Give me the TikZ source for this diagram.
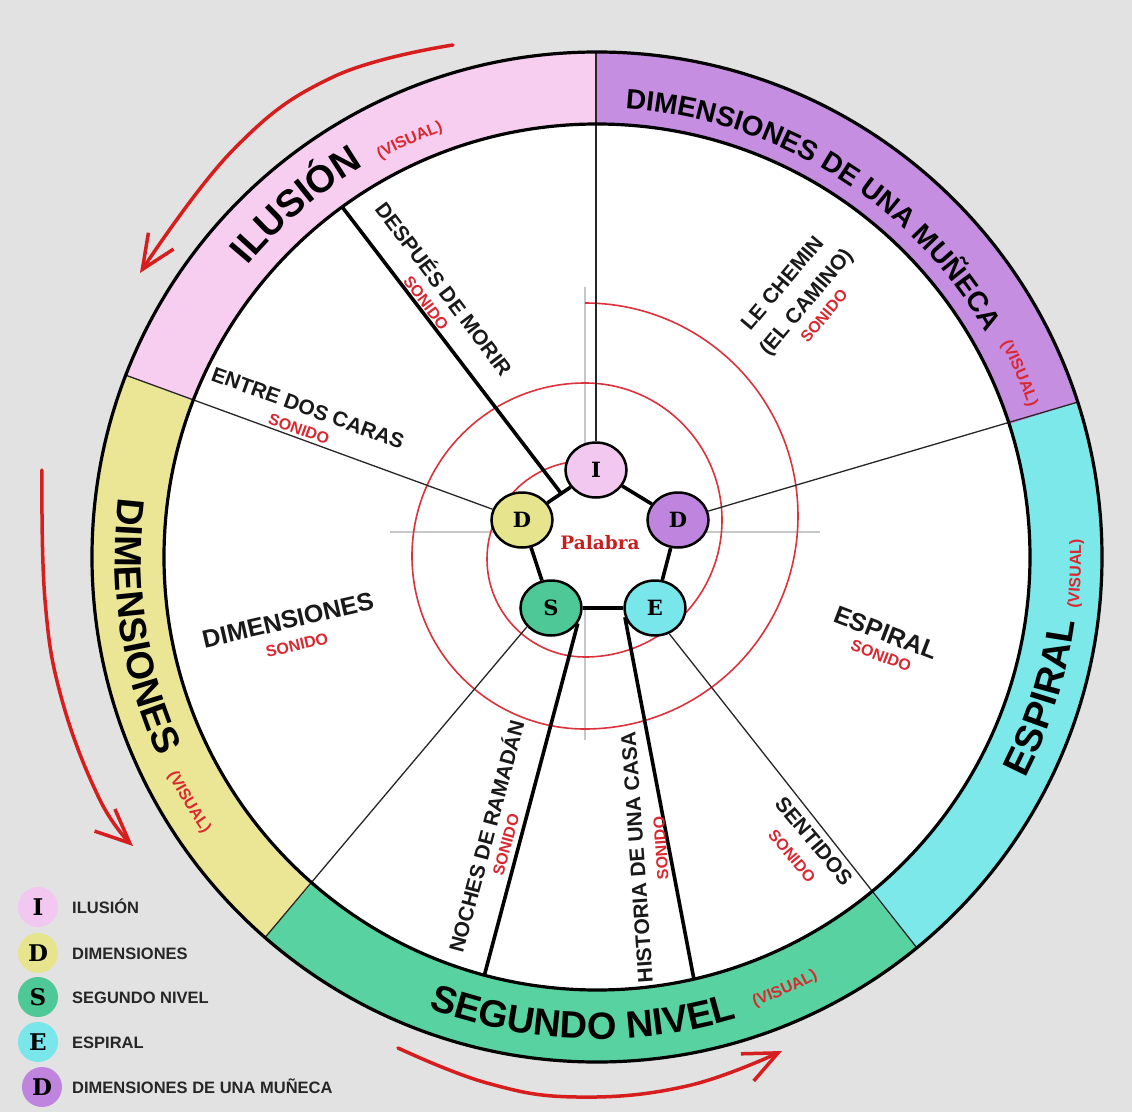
\documentclass[tikz,border=0pt]{standalone}
\usepackage{fontspec}
\setmainfont{Liberation Sans}
\newfontfamily\serifb{DejaVu Serif}
\usetikzlibrary{decorations.text,arrows.meta,shapes.geometric,calc}
\definecolor{bgc}{RGB}{226,226,226}
\definecolor{rpink}{RGB}{247,205,240}
\definecolor{rpurple}{RGB}{197,142,224}
\definecolor{rcyan}{RGB}{125,232,234}
\definecolor{rgreen}{RGB}{88,210,160}
\definecolor{ryellow}{RGB}{235,230,150}
\definecolor{npink}{RGB}{242,200,240}
\definecolor{nyellow}{RGB}{230,228,140}
\definecolor{npurple}{RGB}{190,132,222}
\definecolor{ngreen}{RGB}{78,200,150}
\definecolor{ncyan}{RGB}{120,230,235}
\definecolor{sonred}{RGB}{218,40,48}
\definecolor{arrowred}{RGB}{214,30,30}
\definecolor{spiralred}{RGB}{220,50,60}
\definecolor{palred}{RGB}{200,30,30}
\newcommand\ringsector[3]{\fill[#1] (#2:505) arc[start angle=#2, end angle=#3, radius=505] -- (#3:433) arc[start angle=#3, end angle=#2, radius=433] -- cycle;}
\newcommand\arctext[6]{\path[decorate, decoration={text along path, text align=center, text color=#5, text={|\bfseries\fontsize{#4}{#4}\selectfont|#6}}] (#1:#3) arc[start angle=#1, end angle=#2, radius=#3];}
\begin{document}
\begin{tikzpicture}[x=1pt,y=1pt,
  pnode/.style={ellipse, draw=black, line width=2.5, minimum width=61, minimum height=55, inner sep=0, font=\serifb\bfseries\fontsize{21}{21}\selectfont},
  thinspoke/.style={draw=black!85, line width=1.3},
  thickspoke/.style={draw=black, line width=3.6},
  sect/.style={font=\bfseries\fontsize{21}{23}\selectfont, inner sep=0, text=black!90},
  sectbig/.style={font=\bfseries\fontsize{25}{27}\selectfont, inner sep=0, text=black!90},
  son/.style={text=sonred, font=\bfseries\fontsize{16}{16}\selectfont, inner sep=0},
  redarrow/.style={draw=arrowred, line width=3.5, line cap=round, -{Straight Barb[length=34, width=30]}},
  legc/.style={circle, minimum size=40, inner sep=0, font=\serifb\bfseries\fontsize{23}{23}\selectfont},
  legt/.style={anchor=base west, inner sep=0, text=black!85, font=\bfseries\fontsize{16.5}{17}\selectfont}]
\useasboundingbox (-597,-555) rectangle (535,557);
\fill[bgc] (-597,-555) rectangle (535,557);
% ring sectors
\ringsector{rpink}{90}{158.9}
\ringsector{ryellow}{158.9}{228.9}
\ringsector{rgreen}{228.9}{309.3}
\ringsector{rcyan}{309.3}{377.86}
\ringsector{rpurple}{17.86}{90}
\fill[white] (0,0) circle[radius=433];
% crosshair
\draw[black!22, line width=2] (-207,25) -- (223,25);
\draw[black!22, line width=2] (-12,270) -- (-12,-183);
% spiral
\draw[spiralred, line width=1.6] (-12,254) arc[start angle=90, end angle=-90, radius=213]
  arc[start angle=-90, end angle=-270, radius=173]
  arc[start angle=90, end angle=-90, radius=137]
  arc[start angle=-90, end angle=-270, radius=98];
% pentagon
\coordinate (cI) at (-1,87);
\coordinate (cDy) at (-75,37);
\coordinate (cDp) at (81,37);
\coordinate (cS) at (-46,-51);
\coordinate (cE) at (58,-51);
\fill[white] (cI) -- (cDp) -- (cE) -- (cS) -- (cDy) -- cycle;
\node[pnode, fill=npink] (I) at (cI) {I};
\node[pnode, fill=nyellow] (Dy) at (cDy) {D};
\node[pnode, fill=npurple] (Dp) at (cDp) {D};
\node[pnode, fill=ngreen] (S) at (cS) {S};
\node[pnode, fill=ncyan] (E) at (cE) {E};
\draw[black, line width=3.6] (I) -- (Dp);
\draw[black, line width=3.6] (Dp) -- (E);
\draw[black, line width=3.6] (E) -- (S);
\draw[black, line width=3.6] (S) -- (Dy);
\draw[black, line width=3.6] (Dy) -- (I);
\node[font=\serifb\bfseries\fontsize{18.5}{18.5}\selectfont, text=palred, inner sep=0] (pal) at (3,14) {Palabra};
% spoke end points
\coordinate (pTop) at (-1,505);
\coordinate (pEntre) at (158.9:505);
\coordinate (pRight) at (17.86:505);
\coordinate (pLL) at (228.9:505);
\coordinate (pSent) at (309.3:505);
\coordinate (pDesp) at (126.05:433);
\coordinate (pNoch) at (254.93:433);
\coordinate (pHist) at (282.93:433);
\coordinate (dm) at ($(cDy)!0.53!(cI)$);
% spokes
\draw[thinspoke] (I) -- (pTop);
\draw[thinspoke] (Dy) -- (pEntre);
\draw[thinspoke] (Dp) -- (pRight);
\draw[thinspoke] (S.218) -- (pLL);
\draw[thinspoke] (E.-61) -- (pSent);
\draw[thickspoke] (dm) -- (pDesp);
\draw[thickspoke] (S.-30) -- (pNoch);
\draw[thickspoke] (E.197) -- (pHist);
% ring outlines
\draw[black, line width=3.2] (0,0) circle[radius=505];
\draw[black, line width=3.2] (0,0) circle[radius=433];
% ring labels
\arctext{150}{111}{455}{38}{black}{ILUSIÓN}
\arctext{124.2}{104.2}{453}{16}{sonred}{(VISUAL)}
\arctext{88.2}{28.2}{449}{28}{black}{DIMENSIONES DE UNA MUÑECA}
\arctext{33.5}{13.5}{457}{16}{sonred}{(VISUAL)}
\arctext{165}{212.4}{482}{38}{black}{DIMENSIONES}
\arctext{201}{221}{481}{16}{sonred}{(VISUAL)}
\arctext{-30}{-5}{482}{38}{black}{ESPIRAL}
\arctext{-12}{8}{484}{16}{sonred}{(VISUAL)}
\arctext{246}{290.4}{482}{38}{black}{SEGUNDO NIVEL}
\arctext{283.5}{303.5}{476}{16}{sonred}{(VISUAL)}
% sector labels
\node[sect, rotate=-53] (tDesp) at (-152,269) {DESPUÉS DE MORIR};
\node[son, rotate=-53] (sDesp) at (-171,254) {SONIDO};
\node[sect, rotate=-20] (tEntre) at (-289,149) {ENTRE DOS CARAS};
\node[son, rotate=-20] (sEntre) at (-298,128) {SONIDO};
\node[sectbig, rotate=13] (tDim) at (-309,-63) {DIMENSIONES};
\node[son, rotate=13] (sDim) at (-300,-88) {SONIDO};
\node[sect, rotate=50] (tLe1) at (185,274) {LE CHEMIN};
\node[sect, rotate=50] (tLe2) at (210,254) {(EL CAMINO)};
\node[son, rotate=50] (sLe) at (227,241) {SONIDO};
\node[sectbig, rotate=-21] (tEsp) at (289,-76) {ESPIRAL};
\node[son, rotate=-21] (sEsp) at (284,-99) {SONIDO};
\node[sect, rotate=75] (tNoch) at (-112,-279) {NOCHES DE RAMADÁN};
\node[son, rotate=75] (sNoch) at (-91,-288) {SONIDO};
\node[sect, rotate=94] (tHist) at (40,-300) {HISTORIA DE UNA CASA};
\node[son, rotate=94] (sHist) at (64,-291) {SONIDO};
\node[sect, rotate=-50] (tSent) at (217,-284) {SENTIDOS};
\node[son, rotate=-50] (sSent) at (195,-299) {SONIDO};
% red arrows
\draw[redarrow] plot[smooth, tension=0.7] coordinates {(-144,512) (-264,480) (-364,407) (-457,284)};
\draw[redarrow] plot[smooth, tension=0.7] coordinates {(-555,87) (-552,-43) (-535,-143) (-497,-243) (-464,-289)};
\draw[redarrow] plot[smooth, tension=0.7] coordinates {(-199,-491) (-110,-526) (-20,-540) (90,-529) (185,-494)};
% legend
\node[legc, fill=npink] (LI) at (-559,-350) {I};
\node[legc, fill=nyellow] (LD) at (-559,-396) {D};
\node[legc, fill=ngreen] (LS) at (-559,-440) {S};
\node[legc, fill=ncyan] (LE) at (-559,-485) {E};
\node[legc, fill=npurple] (LM) at (-555,-530) {D};
\node[legt] (LIt) at (-525,-356) {ILUSIÓN};
\node[legt] (LDt) at (-525,-402) {DIMENSIONES};
\node[legt] (LSt) at (-525,-446) {SEGUNDO NIVEL};
\node[legt] (LEt) at (-525,-491) {ESPIRAL};
\node[legt] (LMt) at (-525,-536) {DIMENSIONES DE UNA MUÑECA};
\end{tikzpicture}
\end{document}
